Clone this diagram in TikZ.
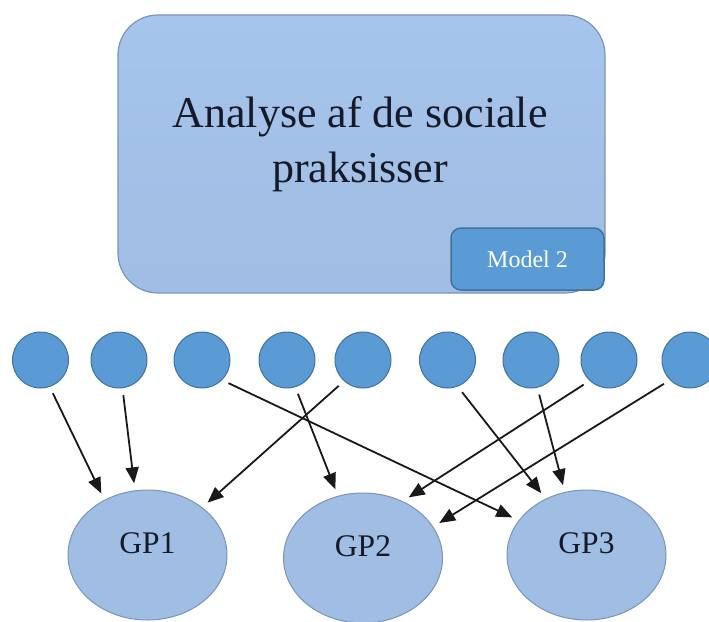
\documentclass[tikz,border=0pt]{standalone}
\usepackage{fontspec}
\setmainfont{Liberation Serif}
\usetikzlibrary{shapes.geometric,arrows.meta}

\definecolor{boxtop}{RGB}{166,197,236}
\definecolor{boxblue}{RGB}{160,189,227}
\definecolor{boxline}{RGB}{122,148,186}
\definecolor{dotblue}{RGB}{91,155,213}
\definecolor{dotline}{RGB}{65,113,156}
\definecolor{textdark}{RGB}{22,26,40}
\definecolor{pilfarve}{RGB}{25,25,28}

\begin{document}
\begin{tikzpicture}[
						x=1pt,
						y=-1pt,
						->,
						>={Triangle[length=16pt,width=13pt]},
						line width=1.8pt,
						draw=pilfarve,
						shorten >=7pt,
						shorten <=7pt,
						analysebox/.style={rectangle, rounded corners=40pt, draw=boxline, line width=1.2pt, top color=boxtop, bottom color=boxblue, minimum width=487pt, minimum height=278pt},
						modelbox/.style={rectangle, rounded corners=10pt, draw=dotline, line width=1.5pt, fill=dotblue, minimum width=153pt, minimum height=62pt, text=white, font=\fontsize{24}{28}\selectfont},
						praksis/.style={circle, draw=dotline, line width=1pt, fill=dotblue, minimum size=56pt, inner sep=0pt},
						gruppe/.style={ellipse, draw=boxline, line width=1pt, fill=boxblue, minimum width=159pt, minimum height=130pt, inner sep=0pt, text=textdark, text depth=24pt, font=\fontsize{31.5}{36}\selectfont}
					]
					\clip (0,0) rectangle (709,621);
					% top box
					\node[analysebox] (analyse) at (361.5,154) {};
					\node[text=textdark, align=center, font=\fontsize{44}{55}\selectfont] (analysetekst) at (360,144) {Analyse af de sociale\\praksisser};
					\node[modelbox] (model) at (527.5,259) {Model 2};
					% praksisser
					\node[praksis] (p1) at (40.5,360) {};
					\node[praksis] (p2) at (119,360) {};
					\node[praksis] (p3) at (202,360) {};
					\node[praksis] (p4) at (287,360) {};
					\node[praksis] (p5) at (363,360) {};
					\node[praksis] (p6) at (447.5,360) {};
					\node[praksis] (p7) at (531,360) {};
					\node[praksis] (p8) at (609,360) {};
					\node[praksis] (p9) at (690,360) {};
					% grupper
					\node[gruppe] (gp1) at (147.5,555) {GP1};
					\node[gruppe] (gp2) at (363,558) {GP2};
					\node[gruppe] (gp3) at (586.5,555) {GP3};
					% pile
					\draw (p1.-71) -- (gp1.128);
					\draw (p2.-83) -- (gp1.101);
					\draw (p3.-45) -- (gp3.153);
					\draw (p4.-73) -- (gp2.112);
					\draw (p5.-132) -- (gp1.41);
					\draw (p6.-69) -- (gp3.126);
					\draw (p7.-77) -- (gp3.109);
					\draw (p8.-133) -- (gp2.55);
					\draw (p9.-135) -- (gp2.24);
				\end{tikzpicture}
\end{document}
